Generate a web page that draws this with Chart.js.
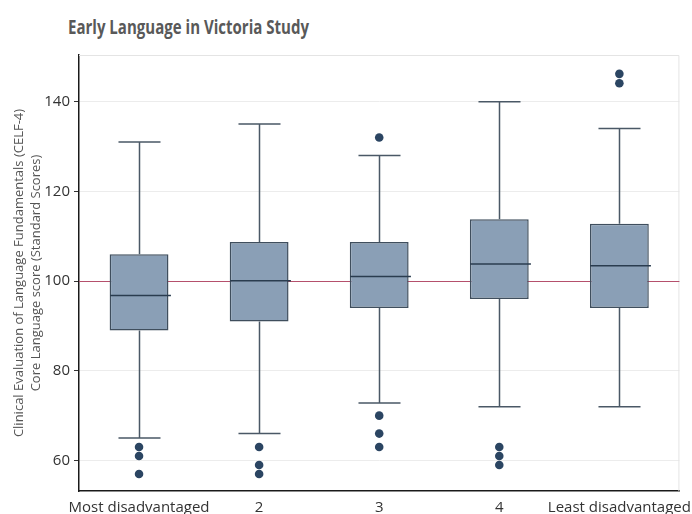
<!DOCTYPE html>
<html>
<head>
<meta charset="utf-8">
<script src="https://cdn.jsdelivr.net/npm/chart.js@4"></script>
<style>
  html, body { margin: 0; padding: 0; background: #fff; }
  #wrap { position: relative; width: 692px; height: 514px; }
  #titulo {
    position: absolute; left: 68px; top: 18px; margin: 0;
    font: bold 19px "Open Sans", sans-serif; line-height: 19px;
    color: #595959; white-space: nowrap; transform-origin: left top;
  }
  canvas { position: absolute; left: 0; top: 0; }
</style>
</head>
<body>
<div id="wrap">
  <div id="titulo">Early Language in Victoria Study</div>
  <canvas id="grafica" width="692" height="514"></canvas>
</div>
<script>
// datos
const categorias = ['Most disadvantaged', '2', '3', '4', 'Least disadvantaged'];
const bigoteBajo = [65, 66, 72.8, 72, 72];
const cuartil1 = [89, 91, 94, 96, 94];
const mediana = [96.8, 100.1, 101, 103.8, 103.4];
const cuartil3 = [106, 108.7, 108.7, 113.8, 112.8];
const bigoteAlto = [131, 135, 128, 140, 134];
const atipicos = [[63, 61, 57], [63, 59, 57], [132, 70, 66, 63], [63, 61, 59], [146.2, 144.1]];
const ticksY = [60, 80, 100, 120, 140];
const lineaReferencia = 100;

// ajustar ancho del titulo (la fuente original es mas estrecha)
const titulo = document.getElementById('titulo');
const medir = document.createElement('canvas').getContext('2d');
medir.font = 'bold 19px "Open Sans"';
const anchoTitulo = medir.measureText(titulo.textContent).width;
titulo.style.transform = 'scaleX(' + (241 / anchoTitulo) + ')';

const puntos = [];
atipicos.forEach((lista, i) => {
  lista.forEach(v => puntos.push({ x: categorias[i], y: v }));
});

// dibuja bigotes, medianas y la linea de referencia
const partesCaja = {
  id: 'partesCaja',
  beforeDatasetsDraw(chart) {
    const { ctx, chartArea: a, scales: { y } } = chart;
    ctx.save();
    ctx.strokeStyle = '#e4e4e4';
    ctx.lineWidth = 1;
    ctx.beginPath();
    ctx.moveTo(a.left, a.top + 0.5);
    ctx.lineTo(a.right - 0.5, a.top + 0.5);
    ctx.lineTo(a.right - 0.5, a.bottom);
    ctx.stroke();
    const yr = Math.round(y.getPixelForValue(lineaReferencia)) + 0.5;
    ctx.strokeStyle = '#b5506c';
    ctx.beginPath();
    ctx.moveTo(a.left, yr);
    ctx.lineTo(a.right, yr);
    ctx.stroke();
    ctx.restore();
  },
  afterDatasetsDraw(chart) {
    const { ctx, scales: { x, y } } = chart;
    const ancho = x.getPixelForValue(1) - x.getPixelForValue(0);
    const caja = ancho * 0.49;
    const tope = ancho * 0.35;
    ctx.save();
    categorias.forEach((c, i) => {
      const cx = Math.round(x.getPixelForValue(i)) + 0.5;
      ctx.strokeStyle = '#4a5866';
      ctx.lineWidth = 1.5;
      ctx.beginPath();
      ctx.moveTo(cx, y.getPixelForValue(cuartil3[i]));
      ctx.lineTo(cx, y.getPixelForValue(bigoteAlto[i]));
      ctx.moveTo(cx, y.getPixelForValue(cuartil1[i]));
      ctx.lineTo(cx, y.getPixelForValue(bigoteBajo[i]));
      ctx.moveTo(cx - tope / 2, y.getPixelForValue(bigoteAlto[i]));
      ctx.lineTo(cx + tope / 2, y.getPixelForValue(bigoteAlto[i]));
      ctx.moveTo(cx - tope / 2, y.getPixelForValue(bigoteBajo[i]));
      ctx.lineTo(cx + tope / 2, y.getPixelForValue(bigoteBajo[i]));
      ctx.stroke();
      ctx.strokeStyle = '#2a3c4f';
      ctx.beginPath();
      ctx.moveTo(cx - caja / 2, y.getPixelForValue(mediana[i]));
      ctx.lineTo(cx + caja / 2 + 2, y.getPixelForValue(mediana[i]));
      ctx.stroke();
    });
    ctx.restore();
  }
};

const ctx = document.getElementById('grafica').getContext('2d');
const chart = new Chart(ctx, {
  type: 'bar',
  data: {
    labels: categorias,
    datasets: [{
      type: 'line',
      data: puntos,
      showLine: false,
      pointRadius: 4.3,
      pointBackgroundColor: '#2b4562',
      pointBorderWidth: 0
    }, {
      data: categorias.map((c, i) => [cuartil1[i], cuartil3[i]]),
      backgroundColor: '#8a9fb6',
      borderColor: '#3f4e5d',
      borderWidth: 1.5,
      borderSkipped: false,
      barPercentage: 0.49,
      categoryPercentage: 1
    }]
  },
  options: {
    responsive: false,
    animation: false,
    devicePixelRatio: 1,
    layout: { padding: { top: 55, right: 11, bottom: 0, left: 0 } },
    plugins: {
      legend: { display: false },
      tooltip: { enabled: false }
    },
    scales: {
      x: {
        offset: true,
        grid: { display: false },
        border: { display: true, color: '#1a1a1a', width: 1.5 },
        ticks: {
          color: '#333',
          padding: 0,
          maxRotation: 0,
          autoSkip: false,
          font: { family: 'Open Sans', size: 15 }
        },
        afterFit(s) { s.height = 23; }
      },
      y: {
        min: 53.2,
        max: 150.4,
        afterBuildTicks(s) { s.ticks = ticksY.map(v => ({ value: v })); },
        grid: { color: '#ececec', tickColor: '#333', tickLength: 5 },
        border: { display: true, color: '#1a1a1a', width: 1.5 },
        ticks: {
          color: '#333',
          padding: 4,
          font: { family: 'Open Sans', size: 15 }
        },
        title: {
          display: true,
          text: ['Clinical Evaluation of Language Fundamentals (CELF-4)', 'Core Language score (Standard Scores)'],
          color: '#555',
          padding: { top: 11, bottom: 0 },
          font: { family: 'Open Sans', size: 13, lineHeight: 1.3 }
        },
        afterFit(s) { s.width = 79; }
      }
    }
  },
  plugins: [partesCaja]
});
</script>
</body>
</html>
